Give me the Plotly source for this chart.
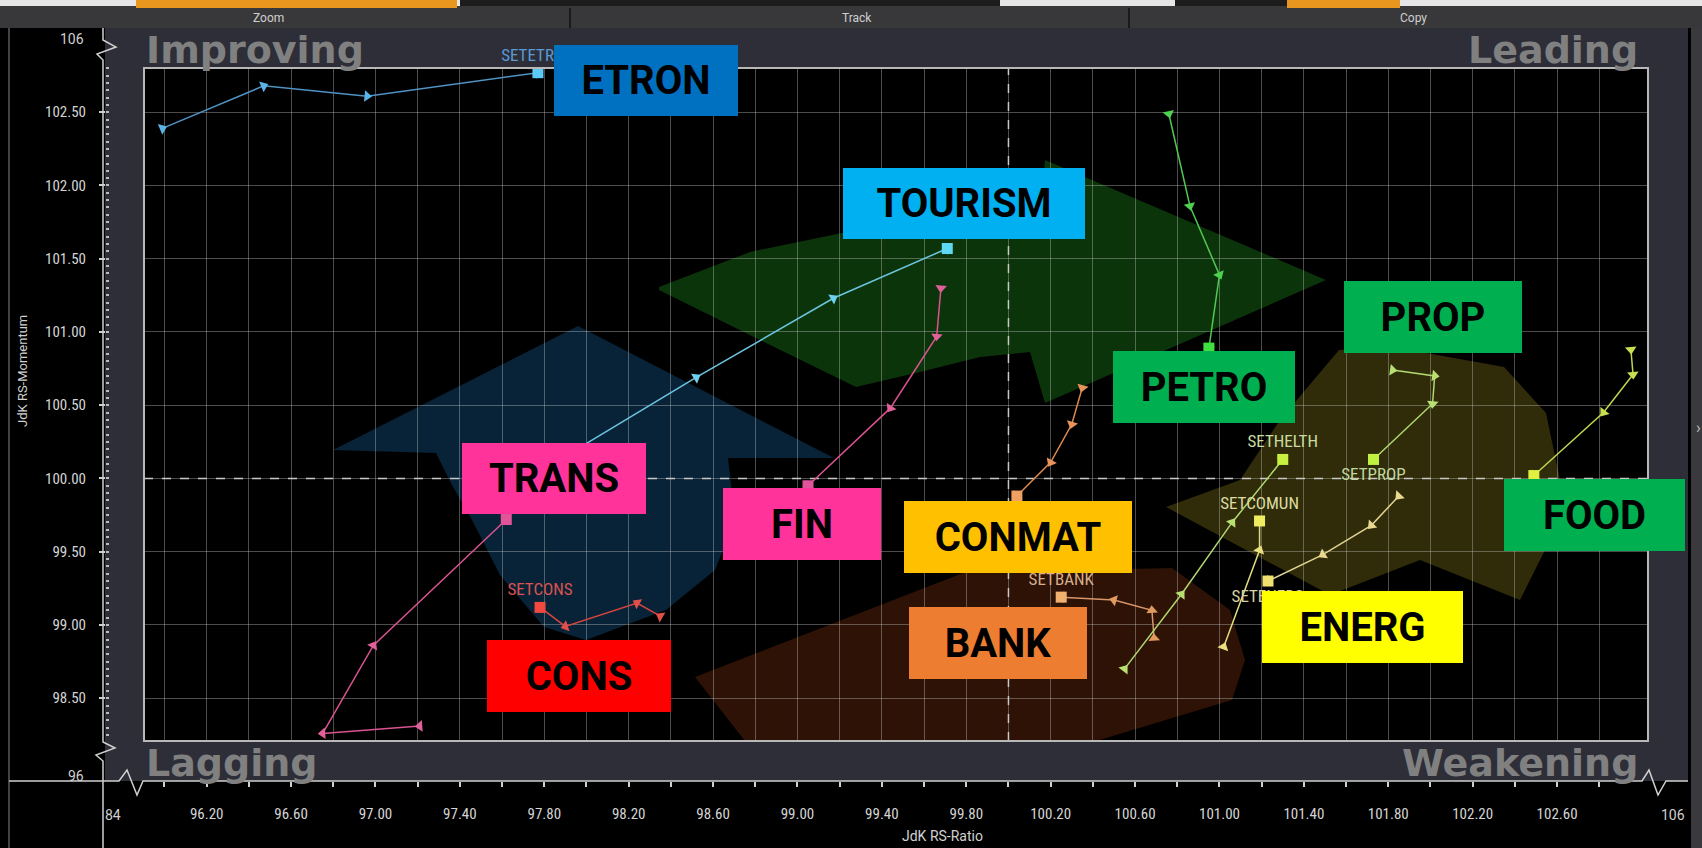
import math
import plotly.graph_objects as go

# ---------------- data ----------------
etron_x = [95.99, 96.47, 96.96, 97.77]
etron_y = [102.39, 102.68, 102.61, 102.77]
tour_x = [97.92, 98.52, 99.17, 99.71]
tour_y = [100.17, 100.69, 101.23, 101.57]
trans_x = [97.21, 96.75, 96.99, 97.62]
trans_y = [98.31, 98.26, 98.86, 99.72]
cons_x = [98.35, 98.24, 97.90, 97.78]
cons_y = [99.06, 99.15, 98.99, 99.12]
fin_x = [99.68, 99.66, 99.44, 99.05]
fin_y = [101.30, 100.97, 100.48, 99.95]
conmat_x = [100.35, 100.30, 100.20, 100.04]
conmat_y = [100.62, 100.37, 100.11, 99.88]
bank_x = [100.69, 100.68, 100.50, 100.25]
bank_y = [98.91, 99.10, 99.17, 99.19]
helth_x = [100.55, 100.82, 101.06, 101.30]
helth_y = [98.70, 99.21, 99.70, 100.13]
comun_x = [101.02, 101.19, 101.19]
comun_y = [98.85, 99.51, 99.71]
energ_x = [101.85, 101.72, 101.49, 101.23]
energ_y = [99.88, 99.68, 99.48, 99.30]
prop_x = [101.82, 102.02, 102.01, 101.73]
prop_y = [100.74, 100.70, 100.51, 100.13]
petro_x = [100.76, 100.86, 101.00, 100.95]
petro_y = [102.49, 101.86, 101.39, 100.89]
food_x = [102.95, 102.96, 102.82, 102.49]
food_y = [100.88, 100.71, 100.45, 100.02]

# head labels (empty where the reference hides them under a sector box)
head_labels = ["SETETRON", "", "", "SETCONS", "", "", "SETBANK", "SETHELTH", "SETCOMUN",
               "SETENERG", "SETPROP", "", ""]

x_tick_vals = [96.0, 96.2, 96.4, 96.6, 96.8, 97.0, 97.2, 97.4, 97.6, 97.8, 98.0, 98.2, 98.4,
               98.6, 98.8, 99.0, 99.2, 99.4, 99.6, 99.8, 100.0, 100.2, 100.4, 100.6, 100.8,
               101.0, 101.2, 101.4, 101.6, 101.8, 102.0, 102.2, 102.4, 102.6, 102.8]
x_tick_text = ["", "96.20", "", "96.60", "", "97.00", "", "97.40", "", "97.80", "", "98.20", "",
               "98.60", "", "99.00", "", "99.40", "", "99.80", "", "100.20", "", "100.60", "",
               "101.00", "", "101.40", "", "101.80", "", "102.20", "", "102.60", ""]
y_tick_vals = [98.5, 99.0, 99.5, 100.0, 100.5, 101.0, 101.5, 102.0, 102.5]
y_tick_text = ["98.50", "99.00", "99.50", "100.00", "100.50", "101.00", "101.50", "102.00", "102.50"]

box_labels = ["ETRON", "TOURISM", "PETRO", "PROP", "TRANS", "FIN", "CONMAT", "FOOD", "ENERG", "BANK", "CONS"]
box_colors = ["#0070C0", "#00B0F0", "#00B050", "#00B050", "#FF3399", "#FF3399", "#FFC000",
              "#00B050", "#FFFF00", "#ED7D31", "#FF0000"]

# ---------------- geometry helpers ----------------
W, H = 1702, 848
ML, MR, MT, MB = 105, 42, 30, 67
PW, PH = W - ML - MR, H - MT - MB
X_RANGE = [95.903, 103.031]
Y_RANGE = [98.208, 102.802]
XPX = 1504 / (X_RANGE[1] - X_RANGE[0])
YPX = 673 / (Y_RANGE[1] - Y_RANGE[0])


def P(x, y):
    return (x - ML) / PW, (H - MB - y) / PH


def path(pts, close=True):
    s = ""
    for i, (x, y) in enumerate(pts):
        px, py = P(x, y)
        s += ("M" if i == 0 else "L") + f"{px:.5f},{py:.5f} "
    return s + ("Z" if close else "")


def pshape(pts, fill=None, line=None, layer="below", close=True):
    d = dict(type="path", xref="paper", yref="paper", path=path(pts, close), layer=layer)
    if fill:
        d["fillcolor"] = fill
    d["line"] = line if line else dict(width=0)
    return d


def marker_angles(xs, ys):
    out = []
    for i in range(len(xs)):
        if i == 0:
            dx, dy = xs[1] - xs[0], ys[1] - ys[0]
        else:
            dx, dy = xs[i] - xs[i - 1], ys[i] - ys[i - 1]
        ux, uy = dx * XPX, -dy * YPX
        out.append(math.degrees(math.atan2(ux, -uy)))
    return out


xd0, _ = P(144, 0)
xd1, _ = P(1648, 0)
_, yd0 = P(0, 741)
_, yd1 = P(0, 68)

fig = go.Figure()

trail_specs = [
    (etron_x, etron_y, "#4f93c4", "#5ab4e6", "#5ccaf5", "top center", "#5b9bd5"),
    (tour_x, tour_y, "#6cc6e0", "#6cd0ee", "#5fd8f5", "top center", "#6cc6e0"),
    (trans_x, trans_y, "#d9548f", "#e0609a", "#e0559a", "top center", "#d9548f"),
    (cons_x, cons_y, "#d8453f", "#e0504a", "#f04a40", "top center", "#d9534f"),
    (fin_x, fin_y, "#d9548f", "#e0609a", "#e0559a", "bottom center", "#d9548f"),
    (conmat_x, conmat_y, "#e08a50", "#e8935a", "#f0a060", "bottom center", "#e8935a"),
    (bank_x, bank_y, "#d8956a", "#e09a60", "#f0b070", "top center", "#d8ae8c"),
    (helth_x, helth_y, "#b0d870", "#b8e070", "#c8f040", "top center", "#c8dca0"),
    (comun_x, comun_y, "#e0dc80", "#e8e080", "#f0ec60", "top center", "#dcdca0"),
    (energ_x, energ_y, "#e0d490", "#e8d890", "#f0e070", "bottom center", "#d8d0a0"),
    (prop_x, prop_y, "#b0d870", "#b8e070", "#c0f040", "bottom center", "#c0d8a0"),
    (petro_x, petro_y, "#50c850", "#50d050", "#40e040", "bottom center", "#50d050"),
    (food_x, food_y, "#c0d850", "#c8e050", "#e0f040", "bottom center", "#c8e050"),
]

LABEL_FONT = "Liberation Sans Narrow, Roboto Condensed, Roboto, sans-serif"

for (xs, ys, lc, mc, hc, tpos, tc), lab in zip(trail_specs, head_labels):
    fig.add_trace(go.Scatter(
        x=xs, y=ys, mode="lines+markers",
        line=dict(color=lc, width=1.5),
        marker=dict(symbol="triangle-up", size=10, color=mc, angle=marker_angles(xs, ys),
                    line=dict(width=0)),
        hoverinfo="skip", showlegend=False))
    fig.add_trace(go.Scatter(
        x=[xs[-1]], y=[ys[-1]], mode="markers+text" if lab else "markers",
        marker=dict(symbol="square", size=11, color=hc, line=dict(width=0)),
        text=[lab], textposition=tpos, cliponaxis=False,
        textfont=dict(family=LABEL_FONT, size=17, color=tc),
        hoverinfo="skip", showlegend=False))

# dummy traces so the overlaid tick axes are drawn
fig.add_trace(go.Scatter(x=[None], y=[None], xaxis="x2", yaxis="y", showlegend=False))
fig.add_trace(go.Scatter(x=[None], y=[None], xaxis="x", yaxis="y2", showlegend=False))

shapes = []
# toolbar
shapes.append(pshape([(0, 0), (W, 0), (W, 28), (0, 28)], fill="#38383a"))
shapes.append(pshape([(0, 0), (W, 0), (W, 6), (0, 6)], fill="#e6e6e6"))
shapes.append(pshape([(460, 0), (1000, 0), (1000, 6), (460, 6)], fill="#1c1c1c"))
shapes.append(pshape([(1175, 0), (1287, 0), (1287, 6), (1175, 6)], fill="#1c1c1c"))
shapes.append(pshape([(136, 0), (457, 0), (457, 8), (136, 8)], fill="#e8961e"))
shapes.append(pshape([(1287, 0), (1400, 0), (1400, 8), (1287, 8)], fill="#e8961e"))
for sx in [570, 1129]:
    shapes.append(pshape([(sx, 8), (sx, 28)], line=dict(color="#1a1a1a", width=2), close=False))
# gray frame
shapes.append(pshape([(105, 28), (1688, 28), (1688, 781), (105, 781)], fill="#2d2e38"))
# right strip
shapes.append(pshape([(1691, 28), (W, 28), (W, H), (1691, H)], fill="#3a3a3e"))
# left window border
shapes.append(pshape([(9, 28), (9, H)], line=dict(color="#5a5a5a", width=1.5), close=False))
# inner black plot area
shapes.append(pshape([(144, 68), (1648, 68), (1648, 741), (144, 741)], fill="#000000"))

# background rotation arrows
green = [(659, 287), (750, 252), (842, 233), (960, 222), (1040, 218), (1045, 160), (1326, 280),
         (1045, 403), (1030, 352), (980, 357), (920, 372), (856, 387), (760, 340), (659, 290)]
blue = [(578, 326), (834, 458), (728, 458), (735, 520), (715, 570), (666, 610), (586, 640),
        (544, 627), (500, 575), (472, 520), (452, 485), (436, 453), (333, 450)]
brown = [(695, 677), (963, 573), (1172, 568), (1230, 610), (1245, 660), (1232, 700), (1096, 741), (745, 741)]
olive = [(1339, 350), (1393, 347), (1504, 367), (1546, 413), (1560, 480), (1550, 540), (1520, 600),
         (1420, 560), (1330, 595), (1166, 507), (1240, 480), (1280, 420)]
for poly, col in [(green, "rgba(20,95,20,0.55)"), (blue, "rgba(15,70,110,0.5)"),
                  (brown, "rgba(90,35,10,0.5)"), (olive, "rgba(95,85,15,0.5)")]:
    shapes.append(pshape(poly, fill=col))

# dashed centre lines
shapes.append(dict(type="line", xref="x", yref="y", x0=100, x1=100, y0=Y_RANGE[0], y1=Y_RANGE[1],
                   line=dict(color="#c8c8c8", width=1.5, dash="dash"), layer="between"))
shapes.append(dict(type="line", xref="x", yref="y", x0=X_RANGE[0], x1=X_RANGE[1], y0=100, y1=100,
                   line=dict(color="#c8c8c8", width=1.5, dash="dash"), layer="between"))
# inner frame border
shapes.append(pshape([(144, 68), (1648, 68), (1648, 741), (144, 741)], line=dict(color="#b8b8b8", width=2),
                     layer="above"))

# axis lines with break marks
ax_col = "#d0d0d0"
shapes.append(pshape([(103, 28), (103, 40), (116, 47), (97, 54), (103, 60), (103, 742),
                      (115, 748), (96, 755), (103, 761), (103, H)], line=dict(color=ax_col, width=1.5), close=False))
shapes.append(pshape([(9, 781), (119, 781), (127, 770), (137, 795), (143, 781), (1642, 781),
                      (1649, 770), (1658, 795), (1666, 781), (1688, 781)], line=dict(color=ax_col, width=1.5),
                     close=False))

annotations = []


def ann(text, x, y, xanchor="center", yanchor="middle", size=15, color="#d0d0d0", family="Roboto", angle=0):
    px, py = P(x, y)
    annotations.append(dict(text=text, x=px, y=py, xref="paper", yref="paper", showarrow=False,
                            xanchor=xanchor, yanchor=yanchor, textangle=angle,
                            font=dict(size=size, color=color, family=family)))


# toolbar labels
ann("Zoom", 268, 18, size=12, color="#cfcfcf")
ann("Track", 857, 18, size=12, color="#cfcfcf")
ann("Copy", 1413, 18, size=12, color="#cfcfcf")
# axis break labels
ann("106", 86, 39, xanchor="right", size=14)
ann("96", 86, 776, xanchor="right", size=14)
ann("84", 113, 815, size=14)
ann("106", 1673, 815, size=14)
ann("›", 1698, 427, size=16, color="#bdbdbd")
# axis titles
ann("JdK RS-Ratio", 942, 836, size=14)
ann("JdK RS-Momentum", 22, 371, size=13, angle=-90)
# quadrant names
QF = "DejaVu Sans"
ann("<b>Improving</b>", 144, 50, xanchor="left", size=38, color="#808080", family=QF)
ann("<b>Leading</b>", 1640, 50, xanchor="right", size=38, color="#808080", family=QF)
ann("<b>Lagging</b>", 144, 763, xanchor="left", size=38, color="#808080", family=QF)
ann("<b>Weakening</b>", 1640, 763, xanchor="right", size=38, color="#808080", family=QF)

# coloured sector boxes
box_geom = [(645.9, 80.9, 184, 71), (964.4, 203.5, 242, 71), (1203.8, 387, 182, 72),
            (1432.8, 317, 178, 72), (553.6, 478.2, 184, 71), (802.2, 523.8, 158, 72),
            (1018.2, 537.3, 228, 72), (1594, 514.5, 181, 72), (1362.8, 627.4, 201, 72),
            (997.5, 642.6, 178, 72), (578.6, 676.2, 184, 72)]
for name, col, (cx, cy, bw, bh) in zip(box_labels, box_colors, box_geom):
    px, py = P(cx, cy)
    annotations.append(dict(text=f"<b>{name}</b>", x=px, y=py, xref="paper", yref="paper",
                            showarrow=False, xanchor="center", yanchor="middle",
                            width=bw, height=bh, bgcolor=col, borderpad=0, borderwidth=0,
                            font=dict(size=40, color="black", family="Roboto")))

tick_font = dict(family=LABEL_FONT, size=15, color="#d4d4d4")

fig.update_layout(
    width=W, height=H,
    margin=dict(l=ML, r=MR, t=MT, b=MB, autoexpand=False),
    paper_bgcolor="#000000", plot_bgcolor="#000000",
    showlegend=False,
    shapes=shapes, annotations=annotations,
    xaxis=dict(domain=[xd0, xd1], range=X_RANGE, anchor="y", tickmode="array", tickvals=x_tick_vals,
               showticklabels=False, ticks="", showgrid=True, gridcolor="rgba(200,200,200,0.38)",
               gridwidth=1, zeroline=False, showline=False, fixedrange=True),
    yaxis=dict(domain=[yd0, yd1], range=Y_RANGE, anchor="x", tickmode="array", tickvals=y_tick_vals,
               showticklabels=False, ticks="", showgrid=True, gridcolor="rgba(200,200,200,0.38)",
               gridwidth=1, zeroline=False, showline=False, fixedrange=True),
    xaxis2=dict(domain=[xd0, xd1], range=X_RANGE, overlaying="x", anchor="free", position=0, side="bottom",
                tickmode="array", tickvals=x_tick_vals, ticktext=x_tick_text, ticks="outside",
                ticklen=5, tickcolor="#cfcfcf", tickwidth=1.5, showgrid=False, zeroline=False,
                showline=False, tickfont=tick_font, ticklabelstandoff=14),
    yaxis2=dict(domain=[yd0, yd1], range=Y_RANGE, overlaying="y", anchor="free", position=0, side="left",
                tickmode="array", tickvals=y_tick_vals, ticktext=y_tick_text, ticks="outside",
                ticklen=6, tickcolor="#cfcfcf", tickwidth=1.5, showgrid=False, zeroline=False,
                showline=False, tickfont=tick_font, ticklabelstandoff=10,
                minor=dict(dtick=0.05, tick0=0, ticks="inside", ticklen=3, tickcolor="#bbbbbb", showgrid=False)),
)

fig.write_html(
    "out.html",
    config={"displayModeBar": False},
    post_script="document.body.style.margin='0';document.body.style.padding='0';"
                "document.documentElement.style.overflow='hidden';document.body.style.overflow='hidden';")
